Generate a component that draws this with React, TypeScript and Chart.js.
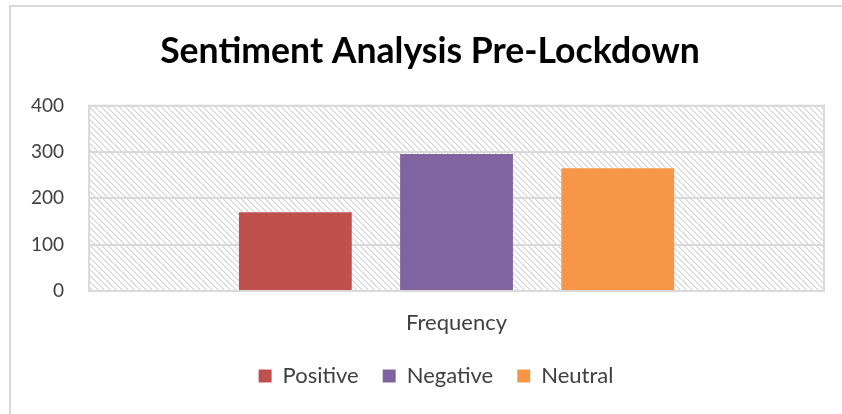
import React, { useEffect, useRef } from "react";
import { Chart, registerables } from "chart.js";

Chart.register(...registerables);

const categories = ["Frequency"];
const seriesNames = ["Positive", "Negative", "Neutral"];
const positiveValues = [170];
const negativeValues = [296];
const neutralValues = [265];
const seriesColors = ["#C0504D", "#8064A2", "#F79646"];
const yTicks = [0, 100, 200, 300, 400];

const FONT = "Lato, 'Open Sans', sans-serif";

function makeHatch(): CanvasPattern | string {
  const size = 6;
  const c = document.createElement("canvas");
  c.width = size;
  c.height = size;
  const ctx = c.getContext("2d");
  if (!ctx) return "#f0f0f0";
  const img = ctx.createImageData(size, size);
  for (let y = 0; y < size; y++) {
    for (let x = 0; x < size; x++) {
      const m = (((x - y) % size) + size) % size;
      const i = (y * size + x) * 4;
      const v = m === 0 ? 212 : m === 1 ? 232 : 255;
      img.data[i] = v;
      img.data[i + 1] = v;
      img.data[i + 2] = v;
      img.data[i + 3] = 255;
    }
  }
  ctx.putImageData(img, 0, 0);
  const p = ctx.createPattern(c, "repeat");
  return p || "#f0f0f0";
}

const bgPlugin = {
  id: "bgPlugin",
  afterLayout(chart: any) {
    const L = chart.legend;
    if (L) {
      L.left += 21;
      L.right += 21;
    }
    const T = chart.titleBlock;
    if (T) {
      T.left += 15;
      T.right += 15;
    }
  },
  beforeDraw(chart: any) {
    const { ctx, chartArea, width, height } = chart;
    ctx.save();
    ctx.fillStyle = "#ffffff";
    ctx.fillRect(0, 0, width, height);
    ctx.strokeStyle = "#d9d9d9";
    ctx.lineWidth = 2;
    ctx.beginPath();
    ctx.moveTo(10, height + 5);
    ctx.lineTo(10, 6);
    ctx.lineTo(width + 5, 6);
    ctx.stroke();
    ctx.fillStyle = makeHatch();
    ctx.fillRect(
      chartArea.left,
      chartArea.top,
      chartArea.right - chartArea.left,
      chartArea.bottom - chartArea.top
    );
    ctx.restore();
  },
  afterDatasetsDraw(chart: any) {
    const { ctx, chartArea } = chart;
    ctx.save();
    ctx.strokeStyle = "#d9d9d9";
    ctx.lineWidth = 2;
    ctx.strokeRect(
      chartArea.left,
      chartArea.top,
      chartArea.right - chartArea.left,
      chartArea.bottom - chartArea.top
    );
    ctx.restore();
  },
};

export default function App() {
  const ref = useRef<HTMLCanvasElement | null>(null);

  useEffect(() => {
    if (!ref.current) return;
    const values = [positiveValues, negativeValues, neutralValues];
    const chart = new Chart(ref.current, {
      type: "bar",
      data: {
        labels: categories,
        datasets: seriesNames.map((name, i) => ({
          label: name,
          data: values[i],
          backgroundColor: seriesColors[i],
          borderWidth: 0,
          categoryPercentage: 0.658,
          barPercentage: 0.7,
        })),
      },
      options: {
        animation: false,
        responsive: true,
        maintainAspectRatio: false,
        layout: { padding: { left: 6, right: 18, top: 18, bottom: 17 } },
        plugins: {
          title: {
            display: true,
            text: "Sentiment Analysis Pre-Lockdown",
            color: "#000000",
            font: { family: FONT, size: 35.6, weight: "bold" },
            padding: { top: 12, bottom: 33 },
          },
          legend: {
            position: "bottom",
            labels: {
              color: "#404040",
              font: { family: FONT, size: 22 },
              boxWidth: 13,
              boxHeight: 13,
              padding: 24,
            },
          },
          tooltip: { enabled: false },
        },
        scales: {
          x: {
            grid: { display: false, drawTicks: false },
            border: { display: false },
            ticks: {
              color: "#404040",
              font: { family: FONT, size: 22 },
              padding: 19,
            },
            afterFit: (scale: any) => {
              scale.height = 50;
            },
          },
          y: {
            min: 0,
            max: 400,
            afterBuildTicks: (axis: any) => {
              axis.ticks = yTicks.map((v) => ({ value: v }));
            },
            grid: { color: "#d9d9d9", lineWidth: 2, drawTicks: false },
            border: { display: false },
            ticks: {
              color: "#404040",
              font: { family: FONT, size: 19 },
              padding: 25,
            },
          },
        },
      },
      plugins: [bgPlugin],
    });
    return () => chart.destroy();
  }, []);

  return (
    <div
      style={{
        position: "fixed",
        left: 0,
        top: 0,
        width: 842,
        height: 414,
        background: "#fff",
        overflow: "hidden",
      }}
    >
      <canvas ref={ref} />
    </div>
  );
}
